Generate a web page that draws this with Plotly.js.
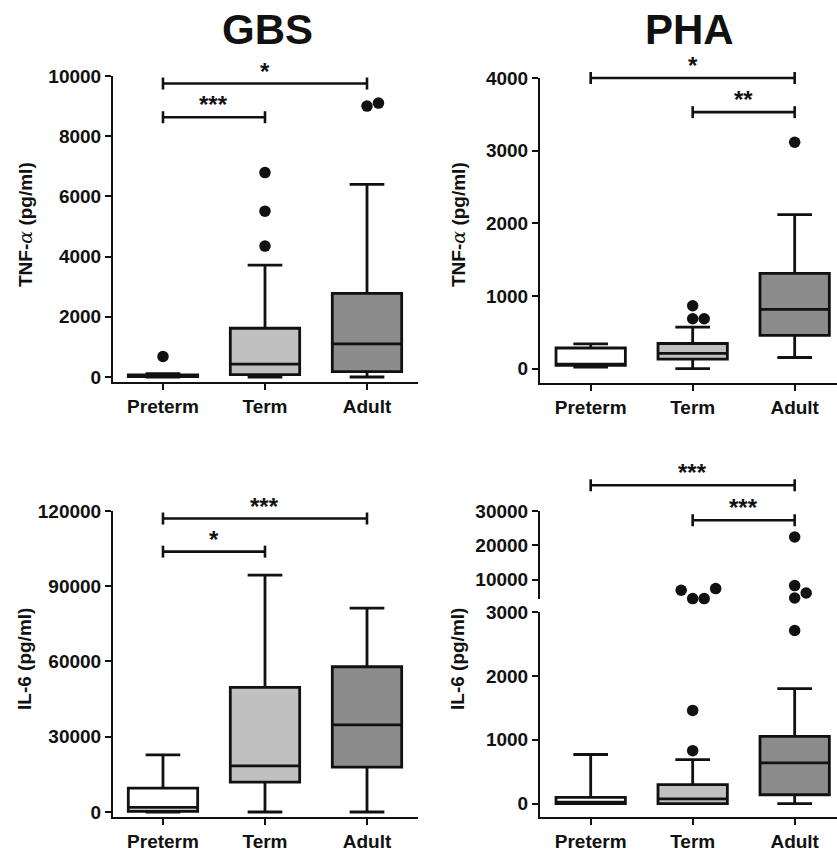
<!DOCTYPE html>
<html><head><meta charset="utf-8">
<script src="https://cdn.plot.ly/plotly-3.0.1.min.js"></script>
<style>html,body{margin:0;padding:0;background:#fff}</style>
</head><body><div id="chart" style="width:837px;height:854px"></div>
<script>
// ---------------- DATA ----------------
const groups = ['Preterm', 'Term', 'Adult'];

// GBS – TNF-α (pg/ml)
const gbsTnfLower  = [0, 0, 0];
const gbsTnfQ1     = [10, 80, 180];
const gbsTnfMedian = [30, 430, 1100];
const gbsTnfQ3     = [70, 1620, 2780];
const gbsTnfUpper  = [110, 3720, 6400];
const gbsTnfOutGroup = [0, 1, 1, 1, 2, 2];
const gbsTnfOutValue = [680, 4350, 5510, 6790, 9000, 9100];
const gbsTnfSigFrom  = [0, 0];
const gbsTnfSigTo    = [2, 1];
const gbsTnfSigLabel = ['*', '***'];
const gbsTnfSigLevel = [9750, 8630];

// PHA – TNF-α (pg/ml)
const phaTnfLower  = [20, 0, 152];
const phaTnfQ1     = [45, 130, 457];
const phaTnfMedian = [62, 210, 815];
const phaTnfQ3     = [283, 345, 1310];
const phaTnfUpper  = [340, 570, 2120];
const phaTnfOutGroup = [1, 1, 1, 2];
const phaTnfOutValue = [685, 685, 865, 3115];
const phaTnfSigFrom  = [0, 1];
const phaTnfSigTo    = [2, 2];
const phaTnfSigLabel = ['*', '**'];
const phaTnfSigLevel = [4000, 3530];

// GBS – IL-6 (pg/ml)
const gbsIl6Lower  = [0, 0, 0];
const gbsIl6Q1     = [300, 11900, 17900];
const gbsIl6Median = [1800, 18400, 34700];
const gbsIl6Q3     = [9500, 49700, 57900];
const gbsIl6Upper  = [22800, 94400, 81300];
const gbsIl6SigFrom  = [0, 0];
const gbsIl6SigTo    = [2, 1];
const gbsIl6SigLabel = ['***', '*'];
const gbsIl6SigLevel = [117000, 103800];

// PHA – IL-6 (pg/ml), broken axis
const phaIl6Lower  = [0, 0, 0];
const phaIl6Q1     = [0, 0, 140];
const phaIl6Median = [25, 75, 640];
const phaIl6Q3     = [100, 300, 1055];
const phaIl6Upper  = [770, 690, 1800];
const phaIl6OutGroup = [1, 1, 1, 1, 1, 1, 2, 2, 2, 2, 2];
const phaIl6OutValue = [830, 1460, 4460, 4460, 6880, 7380, 2710, 4640, 6100, 8250, 22420];
const phaIl6SigFrom  = [0, 1];
const phaIl6SigTo    = [2, 2];
const phaIl6SigLabel = ['***', '***'];
const phaIl6SigLevel = [37500, 27300];

const panelTitles = ['GBS', 'PHA'];
const tnfTitle = 'TNF-<span style="font-family:\'DejaVu Serif\';font-weight:normal;font-style:italic">α</span> (pg/ml)';
const il6Title = 'IL-6 (pg/ml)';

// ---------------- STYLE / LAYOUT ----------------
const W = 837, H = 854;
const F = 'Liberation Sans, Arial, Helvetica, sans-serif';
const INK = '#111111';
const fills = ['#ffffff', '#c0c0c0', '#8c8c8c'];
const LW = 2.8;

function xAxis(dom, range, anchor) {
  return {domain: [dom[0] / W, dom[1] / W], range: range, anchor: anchor,
    tickmode: 'array', tickvals: groups.map((g, i) => i), ticktext: groups,
    showline: true, linewidth: 2, linecolor: INK, ticks: 'outside', ticklen: 6, tickwidth: 2, tickcolor: INK,
    tickfont: {family: F, size: 19, color: INK, weight: 'bold'},
    showgrid: false, zeroline: false, fixedrange: true};
}
function yAxis(dom, range, anchor, ticks) {
  const a = {domain: [1 - dom[1] / H, 1 - dom[0] / H], range: range, anchor: anchor,
    showline: true, linewidth: 2, linecolor: INK, ticks: 'outside', ticklen: 6, tickwidth: 2, tickcolor: INK,
    tickfont: {family: F, size: 19, color: INK, weight: 'bold'}, tickformat: 'd',
    showgrid: false, zeroline: false, fixedrange: true};
  if (Array.isArray(ticks)) { a.tickmode = 'array'; a.tickvals = ticks; }
  else { a.tick0 = 0; a.dtick = ticks; }
  return a;
}

const layout = {
  width: W, height: H, margin: {l: 0, r: 0, t: 0, b: 0},
  paper_bgcolor: '#ffffff', plot_bgcolor: 'rgba(0,0,0,0)',
  showlegend: false, boxmode: 'overlay',
  font: {family: F, color: INK},
  xaxis:  xAxis([113, 418], [-0.49, 2.5], 'y'),
  yaxis:  yAxis([76, 382], [-166, 10000], 'x', 2000),
  xaxis2: xAxis([540, 837], [-0.497, 2.415], 'y2'),
  yaxis2: yAxis([78, 383], [-199, 4000], 'x2', 1000),
  xaxis3: xAxis([113, 418], [-0.49, 2.5], 'y3'),
  yaxis3: yAxis([511, 817], [-2000, 120000], 'x3', 30000),
  xaxis4: xAxis([540, 837], [-0.497, 2.415], 'y4'),
  yaxis4: yAxis([612, 817], [-208, 3000], 'x4', 1000),
  yaxis5: yAxis([511, 599], [4340, 30000], 'x4', [10000, 20000, 30000]),
  shapes: [], annotations: []
};

function toPaperY(ax, v) {
  return ax.domain[0] + (v - ax.range[0]) / (ax.range[1] - ax.range[0]) * (ax.domain[1] - ax.domain[0]);
}

// simple beeswarm so overlapping outliers sit side by side
function swarm(grp, vals, xa, ya) {
  const pxX = (xa.domain[1] - xa.domain[0]) * W / (xa.range[1] - xa.range[0]);
  const pxY = (ya.domain[1] - ya.domain[0]) * H / (ya.range[1] - ya.range[0]);
  const diam = 11.5;
  const order = vals.map((v, i) => i).sort((a, b) => vals[a] - vals[b]);
  const placed = [], xs = new Array(vals.length);
  order.forEach(i => {
    const yp = vals[i] * pxY;
    for (let k = 0; k < 20; k++) {
      const off = k === 0 ? 0 : (k % 2 ? 1 : -1) * Math.ceil(k / 2) * diam;
      const ok = placed.every(p => p.g !== grp[i] || Math.hypot(p.x - off, p.y - yp) >= diam - 0.01);
      if (ok) { placed.push({g: grp[i], x: off, y: yp}); xs[i] = grp[i] + off / pxX; break; }
    }
  });
  return xs;
}

const traces = [];
function addBoxes(lower, q1, med, q3, upper, xr, yr) {
  groups.forEach((g, i) => {
    traces.push({type: 'box', name: g, x: [i], q1: [q1[i]], median: [med[i]], q3: [q3[i]],
      lowerfence: [lower[i]], upperfence: [upper[i]], width: 0.68, whiskerwidth: 0.5,
      fillcolor: fills[i], line: {color: INK, width: LW}, boxpoints: false,
      xaxis: xr, yaxis: yr, hoverinfo: 'skip', showlegend: false});
  });
}
function addOutliers(grp, vals, xr, yr) {
  if (!grp.length) return;
  const xa = layout['xaxis' + xr.slice(1)], ya = layout['yaxis' + yr.slice(1)];
  traces.push({type: 'scatter', mode: 'markers', x: swarm(grp, vals, xa, ya), y: vals,
    marker: {size: 11.5, color: INK}, cliponaxis: false, xaxis: xr, yaxis: yr,
    hoverinfo: 'skip', showlegend: false});
}
function addBrackets(from, to, labels, levels, xr, yr) {
  const ya = layout['yaxis' + yr.slice(1)];
  from.forEach((f, i) => {
    const py = toPaperY(ya, levels[i]);
    const ln = {color: INK, width: 2.6};
    layout.shapes.push({type: 'line', xref: xr, yref: 'paper', x0: f, x1: to[i], y0: py, y1: py, line: ln});
    [f, to[i]].forEach(xv => layout.shapes.push({type: 'line', xref: xr, yref: 'paper',
      ysizemode: 'pixel', yanchor: py, y0: -6, y1: 6, x0: xv, x1: xv, line: ln}));
    layout.annotations.push({xref: xr, yref: 'paper', x: (f + to[i]) / 2, y: py, xanchor: 'center', yanchor: 'bottom',
      text: labels[i], showarrow: false, yshift: -3, font: {family: F, size: 24, color: INK, weight: 'bold'}});
  });
}

// Panel 1 : GBS TNF
addBoxes(gbsTnfLower, gbsTnfQ1, gbsTnfMedian, gbsTnfQ3, gbsTnfUpper, 'x', 'y');
addOutliers(gbsTnfOutGroup, gbsTnfOutValue, 'x', 'y');
addBrackets(gbsTnfSigFrom, gbsTnfSigTo, gbsTnfSigLabel, gbsTnfSigLevel, 'x', 'y');
// Panel 2 : PHA TNF
addBoxes(phaTnfLower, phaTnfQ1, phaTnfMedian, phaTnfQ3, phaTnfUpper, 'x2', 'y2');
addOutliers(phaTnfOutGroup, phaTnfOutValue, 'x2', 'y2');
addBrackets(phaTnfSigFrom, phaTnfSigTo, phaTnfSigLabel, phaTnfSigLevel, 'x2', 'y2');
// Panel 3 : GBS IL-6
addBoxes(gbsIl6Lower, gbsIl6Q1, gbsIl6Median, gbsIl6Q3, gbsIl6Upper, 'x3', 'y3');
addBrackets(gbsIl6SigFrom, gbsIl6SigTo, gbsIl6SigLabel, gbsIl6SigLevel, 'x3', 'y3');
// Panel 4 : PHA IL-6 (broken axis)
addBoxes(phaIl6Lower, phaIl6Q1, phaIl6Median, phaIl6Q3, phaIl6Upper, 'x4', 'y4');
const lowTop = layout.yaxis4.range[1];
const loG = [], loV = [], hiG = [], hiV = [];
phaIl6OutValue.forEach((v, i) => { if (v <= lowTop) { loG.push(phaIl6OutGroup[i]); loV.push(v); } else { hiG.push(phaIl6OutGroup[i]); hiV.push(v); } });
addOutliers(loG, loV, 'x4', 'y4');
addOutliers(hiG, hiV, 'x4', 'y5');
addBrackets(phaIl6SigFrom, phaIl6SigTo, phaIl6SigLabel, phaIl6SigLevel, 'x4', 'y5');

// Titles
function note(x, y, text, size, angle) {
  return {xref: 'paper', yref: 'paper', x: x, y: y, xanchor: 'center', yanchor: 'middle', textangle: angle || 0,
    text: text, showarrow: false, font: {family: F, size: size, color: INK, weight: 'bold'}};
}
layout.annotations.push(
  note(267 / W, 1 - 29 / H, panelTitles[0], 42),
  note(689 / W, 1 - 29 / H, panelTitles[1], 42),
  note(25 / W, 1 - 225 / H, tnfTitle, 19, -90),
  note(458 / W, 1 - 225 / H, tnfTitle, 19, -90),
  note(24 / W, 1 - 659 / H, il6Title, 19, -90),
  note(457 / W, 1 - 659 / H, il6Title, 19, -90)
);

Plotly.newPlot('chart', traces, layout, {staticPlot: true, displayModeBar: false});
</script>
</body></html>
